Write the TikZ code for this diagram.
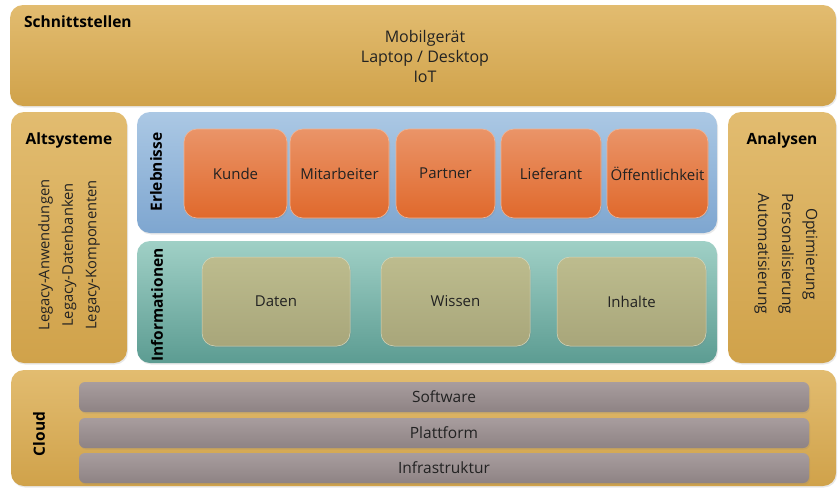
\documentclass[tikz,border=0pt]{standalone}
\usepackage{fontspec}
\setmainfont{Open Sans}
\usetikzlibrary{shadows}
\definecolor{goldA}{HTML}{E2BC70}
\definecolor{goldB}{HTML}{D0A24A}
\definecolor{blueA}{HTML}{ABC8E4}
\definecolor{blueB}{HTML}{7EA6D0}
\definecolor{orgA}{HTML}{EA9468}
\definecolor{orgB}{HTML}{E0692C}
\definecolor{tealA}{HTML}{A0D0C6}
\definecolor{tealB}{HTML}{5C9C92}
\definecolor{oliveA}{HTML}{BDBC8E}
\definecolor{oliveB}{HTML}{A8A67A}
\definecolor{greyA}{HTML}{A89D9E}
\definecolor{greyB}{HTML}{8E8384}
\definecolor{ink}{HTML}{222222}
\tikzset{
  panel/.style={anchor=north west, inner sep=0pt, outer sep=0pt,
    rounded corners=#1,
    drop shadow={opacity=0.18, shadow xshift=1pt, shadow yshift=-1.5pt}},
  goldbox/.style={panel=13pt, top color=goldA, bottom color=goldB},
  bluebox/.style={panel=13pt, top color=blueA, bottom color=blueB},
  tealbox/.style={panel=13pt, top color=tealA, bottom color=tealB},
  orgbox/.style={panel=13pt, top color=orgA, bottom color=orgB,
    draw=orgA!70!white, line width=0.6pt,
    text=ink, font=\fontsize{15}{17}\selectfont},
  olivebox/.style={panel=13pt, top color=oliveA, bottom color=oliveB,
    draw=oliveA!60!white, line width=0.5pt,
    text=ink, font=\fontsize{15}{17}\selectfont},
  greybar/.style={panel=6pt, top color=greyA, bottom color=greyB,
    text=ink, font=\fontsize{15.5}{17}\selectfont},
  heading/.style={font=\bfseries\fontsize{15.5}{17}\selectfont, text=black, inner sep=0pt},
  body/.style={text=ink, align=center, inner sep=0pt},
}
\begin{document}
\begin{tikzpicture}[x=1pt,y=-1pt]
\useasboundingbox (0,0) rectangle (838,490);

% outer frame boxes
\node[goldbox, minimum width=826pt, minimum height=101pt] (schnitt) at (10,5) {};
\node[goldbox, minimum width=116pt, minimum height=251pt] (alt) at (11,112) {};
\node[goldbox, minimum width=108pt, minimum height=251pt] (ana) at (728,112) {};
\node[goldbox, minimum width=825pt, minimum height=116pt] (cloud) at (11,370) {};

% middle layers
\node[bluebox, minimum width=580pt, minimum height=121pt] (erl) at (137,112) {};
\node[tealbox, minimum width=580pt, minimum height=122pt] (info) at (137,241) {};

% Erlebnisse
\node[orgbox, minimum width=103pt, minimum height=89pt] (kunde) at (184,129) {Kunde};
\node[orgbox, minimum width=99pt, minimum height=89pt] (mit) at (290,129) {Mitarbeiter};
\node[orgbox, minimum width=99pt, minimum height=89pt] (partner) at (396,129) {Partner};
\node[orgbox, minimum width=100pt, minimum height=89pt] (lief) at (501,129) {Lieferant};
\node[orgbox, minimum width=101pt, minimum height=89pt] (oeff) at (607,129) {Öffentlichkeit};

% Informationen
\node[olivebox, minimum width=148pt, minimum height=89pt] (daten) at (202,257) {Daten};
\node[olivebox, minimum width=149pt, minimum height=89pt] (wissen) at (381,257) {Wissen};
\node[olivebox, minimum width=149pt, minimum height=89pt] (inhalte) at (557,257) {Inhalte};

% Cloud layers
\node[greybar, minimum width=730pt, minimum height=30pt] (sw) at (79,382) {Software};
\node[greybar, minimum width=730pt, minimum height=30pt] (pf) at (79,418) {Plattform};
\node[greybar, minimum width=730pt, minimum height=30pt] (infra) at (79,453) {Infrastruktur};

% headings
\node[heading, anchor=west] (tSchnitt) at (24,22) {Schnittstellen};
\node[heading] (tAlt) at (69,140) {Altsysteme};
\node[heading] (tAna) at (782,140) {Analysen};
\node[heading, rotate=90] (tErl) at (156,172) {Erlebnisse};
\node[heading, rotate=90] (tInfo) at (157,305) {Informationen};
\node[heading, rotate=90] (tCloud) at (39,434) {Cloud};

% body texts
\node[body, font=\fontsize{16}{20}\selectfont] (tDev) at (425,56) {Mobilgerät\\Laptop / Desktop\\IoT};
\node[body, rotate=90, font=\fontsize{14.7}{23.5}\selectfont] (tLeg) at (69,255) {Legacy-Anwendungen\\Legacy-Datenbanken\\Legacy-Komponenten};
\node[body, rotate=-90, font=\fontsize{15.5}{24}\selectfont] (tOpt) at (786,254) {Optimierung\\Personalisierung\\Automatisierung};
\end{tikzpicture}
\end{document}
